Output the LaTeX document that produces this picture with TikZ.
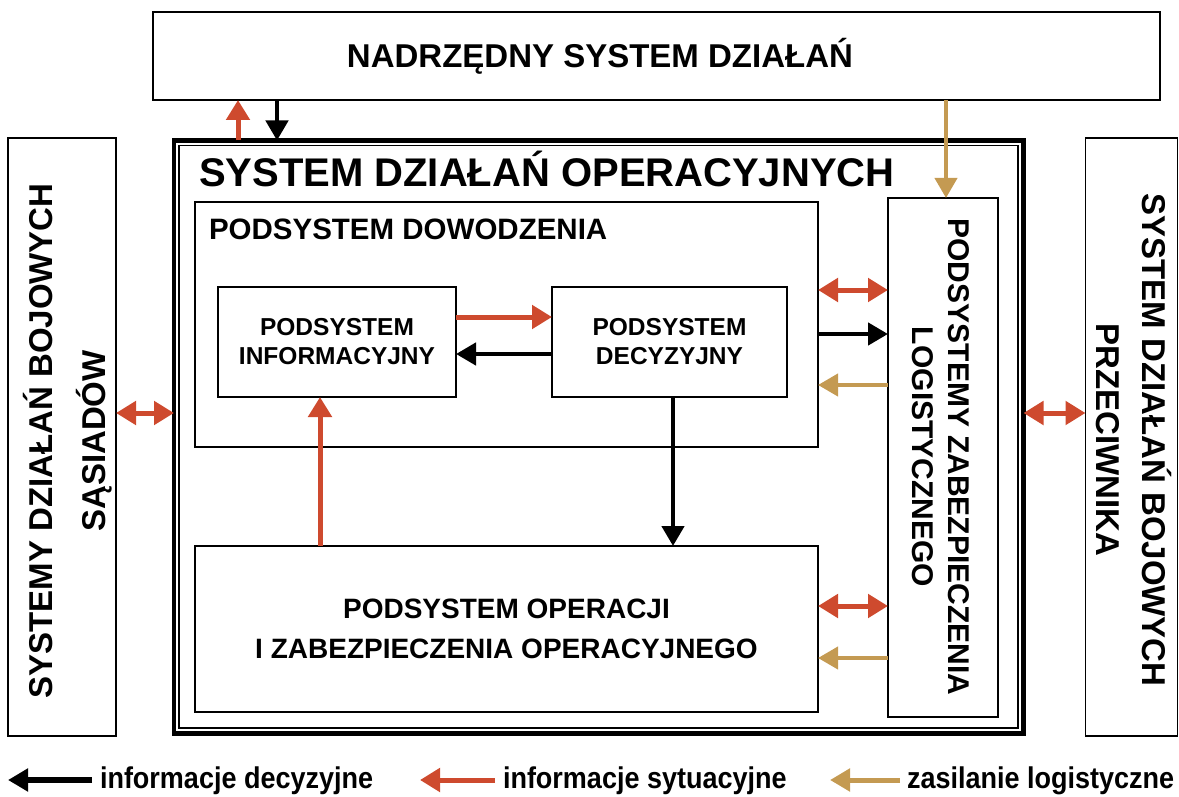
\documentclass[tikz,border=0pt]{standalone}
\usepackage{fontspec}
\setmainfont{Liberation Sans}
\newfontfamily\narrowfont[FakeStretch=0.9]{Liberation Sans}
\usetikzlibrary{arrows.meta}
\definecolor{infored}{RGB}{206,74,46}
\definecolor{supplygold}{RGB}{196,154,82}
\newcommand\fsz[2]{\fontsize{#1}{#2}\selectfont}

\begin{document}
\begin{tikzpicture}[x=1pt,y=-1pt,
  box/.style={draw=black, line width=1.3pt, inner sep=0pt, outer sep=0pt},
  txt/.style={inner sep=0pt, outer sep=0pt, align=center},
  decision/.style={draw=black, line width=4.5pt, -{Triangle[length=20pt,width=22pt]}},
  situation/.style={draw=infored, line width=5pt, -{Triangle[length=20pt,width=23pt]}},
  situation2/.style={draw=infored, line width=5pt, {Triangle[length=20pt,width=23pt]}-{Triangle[length=20pt,width=23pt]}},
  supply/.style={draw=supplygold, line width=4pt, -{Triangle[length=20pt,width=22pt]}}
]
\useasboundingbox (0,0) rectangle (1179,797);

% superior system
\node[box, minimum width=1007pt, minimum height=88pt] (top) at (656.5,56) {};
\node[txt, anchor=base, font=\bfseries\fsz{33}{40}] (toptxt) at (600,68) {NADRZĘDNY SYSTEM DZIAŁAŃ};

% neighbours and adversary
\node[box, minimum width=108pt, minimum height=598pt] (neigh) at (62,437) {};
\node[txt, rotate=90, font=\bfseries\fsz{33}{53}] (neightxt) at (68,441) {SYSTEMY DZIAŁAŃ BOJOWYCH\\SĄSIADÓW};
\node[box, minimum width=92pt, minimum height=598pt] (enemy) at (1131.5,437) {};
\node[txt, rotate=-90, font=\bfseries\fsz{33}{46}] (enemytxt) at (1134,440) {SYSTEM DZIAŁAŃ BOJOWYCH\\PRZECIWNIKA};

% operational system frame (thick outer + thin inner line)
\node[draw=black, line width=4.5pt, inner sep=0pt, outer sep=0pt, minimum width=849.5pt, minimum height=593pt] (frame) at (598.75,437) {};
\node[draw=black, line width=1.2pt, inner sep=0pt, outer sep=0pt, minimum width=839pt, minimum height=582.5pt] (frameinner) at (598.5,436.75) {};
\node[txt, anchor=base west, font=\bfseries\fsz{40}{48}] (frametxt) at (199,187) {SYSTEM DZIAŁAŃ OPERACYJNYCH};

% command subsystem
\node[box, minimum width=623pt, minimum height=245pt] (cmd) at (506.5,324.5) {};
\node[txt, anchor=base west, font=\bfseries\fsz{29.5}{36}] (cmdtxt) at (209,240) {PODSYSTEM DOWODZENIA};
\node[box, minimum width=238pt, minimum height=110pt, txt, font=\bfseries\fsz{24.5}{29}] (info) at (337,342) {PODSYSTEM\\INFORMACYJNY};
\node[box, minimum width=235pt, minimum height=110pt, txt, font=\bfseries\fsz{24.5}{29}] (dec) at (669.5,342) {PODSYSTEM\\DECYZYJNY};

% operations subsystem
\node[box, minimum width=623pt, minimum height=166pt, txt, font=\bfseries\fsz{28}{40}] (ops) at (506.5,629) {PODSYSTEM OPERACJI\\I ZABEZPIECZENIA OPERACYJNEGO};

% logistics subsystem
\node[box, minimum width=110pt, minimum height=519pt] (log) at (943,457.5) {};
\node[txt, rotate=-90, font=\bfseries\fsz{30}{36}] (logtxt) at (940.5,457) {PODSYSTEMY ZABEZPIECZENIA\\LOGISTYCZNEGO};

% helper ordinates and abscissae
\coordinate (xa) at (238,0);
\coordinate (xb) at (277,0);
\coordinate (xc) at (946,0);
\coordinate (xd) at (320,0);
\coordinate (xe) at (673,0);
\coordinate (ya) at (0,290);
\coordinate (yb) at (0,334);
\coordinate (yc) at (0,385);
\coordinate (yd) at (0,606);
\coordinate (ye) at (0,658);
\coordinate (yf) at (0,413);
\coordinate (yg) at (0,317);
\coordinate (yh) at (0,354);

% links with the superior system
\draw[situation] (xa |- frame.north) -- (xa |- top.south);
\draw[decision] (xb |- top.south) -- (xb |- frame.north);
\draw[supply] (xc |- top.south) -- (xc |- log.north);

% inside the command subsystem
\draw[situation] (info.east |- yg) -- (dec.west |- yg);
\draw[decision] (dec.west |- yh) -- (info.east |- yh);
\draw[situation] (xd |- ops.north) -- (xd |- info.south);
\draw[decision] (xe |- dec.south) -- (xe |- ops.north);

% links with logistics
\draw[situation2] (cmd.east |- ya) -- (log.west |- ya);
\draw[decision] (cmd.east |- yb) -- (log.west |- yb);
\draw[supply] (log.west |- yc) -- (cmd.east |- yc);
\draw[situation2] (ops.east |- yd) -- (log.west |- yd);
\draw[supply] (log.west |- ye) -- (ops.east |- ye);

% links with neighbours and adversary
\draw[situation2] (neigh.east |- yf) -- (frame.west |- yf);
\draw[situation2] (frame.east |- yf) -- (enemy.west |- yf);

% legend
\node[txt, anchor=base west, font=\narrowfont\bfseries\fsz{30}{36}] (l1) at (100,788) {informacje decyzyjne};
\node[txt, anchor=base west, font=\narrowfont\bfseries\fsz{30}{36}] (l2) at (503,788) {informacje sytuacyjne};
\node[txt, anchor=base west, font=\narrowfont\bfseries\fsz{30}{36}] (l3) at (907,788) {zasilanie logistyczne};
\coordinate (t1) at (8,780);
\coordinate (t2) at (420,780);
\coordinate (t3) at (830,780);
\draw[decision, line width=6pt] ([xshift=-8pt]l1.west |- t1) -- (t1);
\draw[situation] ([xshift=-8pt]l2.west |- t2) -- (t2);
\draw[supply, line width=5pt] ([xshift=-7pt]l3.west |- t3) -- (t3);
\end{tikzpicture}
\end{document}
